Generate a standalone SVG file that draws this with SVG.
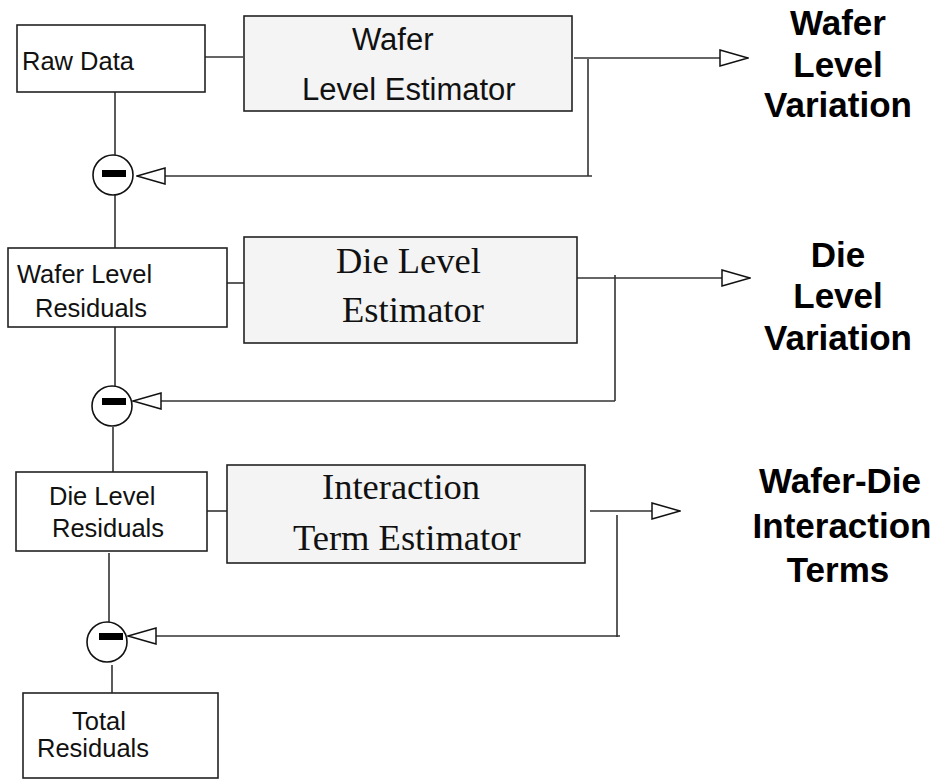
<svg xmlns="http://www.w3.org/2000/svg" width="940" height="779" viewBox="0 0 940 779">
<style>
.box{fill:#ffffff;stroke:#222;stroke-width:1.6}
.est{fill:#f4f4f4;stroke:#222;stroke-width:1.6}
.ln{fill:none;stroke:#333;stroke-width:1.6}
.arr{fill:none;stroke:#333;stroke-width:1.6;marker-end:url(#tri)}
.sum{fill:#ffffff;stroke:#111;stroke-width:1.6}
.bar{fill:#000}
.lbl{font-family:"Liberation Sans",Arial,sans-serif;font-size:25.5px;fill:#111}
.ser{font-family:"Liberation Serif","Times New Roman",serif;font-size:36.5px;fill:#111}
.ss{font-family:"Liberation Sans",Arial,sans-serif;font-size:31px;fill:#111}
.out{font-family:"Liberation Sans",Arial,sans-serif;font-size:35px;font-weight:bold;fill:#000;text-anchor:middle}
</style>
<defs>
<marker id="tri" markerUnits="userSpaceOnUse" viewBox="0 0 30 18" refX="29" refY="9" markerWidth="30" markerHeight="18" orient="auto">
<path d="M1,1 L29,9 L1,17 Z" fill="#fff" stroke="#111" stroke-width="1.5"/>
</marker>
</defs>

<g id="connectors">
<!-- stage 1 -->
<path class="ln" d="M203,57 H243"/>
<path class="arr" d="M574,58 H748"/>
<path class="ln" d="M588,59 V176"/>
<path class="arr" d="M592,176 H137"/>
<path class="ln" d="M115,92 V155"/>
<path class="ln" d="M115,195 V248"/>
<!-- stage 2 -->
<path class="ln" d="M227,283 H244"/>
<path class="arr" d="M577,278 H750"/>
<path class="ln" d="M615,275 V401"/>
<path class="arr" d="M615,401 H133"/>
<path class="ln" d="M115,327 V386"/>
<path class="ln" d="M113,427 V472"/>
<!-- stage 3 -->
<path class="ln" d="M204,511 H230"/>
<path class="arr" d="M590,511 H680"/>
<path class="ln" d="M617,515 V637"/>
<path class="arr" d="M620,636 H128"/>
<path class="ln" d="M109,553 V622"/>
<path class="ln" d="M112,665 V693"/>
</g>

<g id="raw-data">
<rect class="box" x="17" y="25" width="188" height="67"/>
<text class="lbl" x="22" y="70">Raw Data</text>
</g>

<g id="wafer-level-estimator">
<rect class="est" x="244" y="16" width="328" height="95"/>
<text class="ss" x="352" y="50">Wafer</text>
<text class="ss" x="302" y="100">Level Estimator</text>
</g>

<g id="sum1">
<circle class="sum" cx="113" cy="175" r="20"/>
<rect class="bar" x="102" y="170" width="24" height="7"/>
</g>

<g id="wafer-level-residuals">
<rect class="box" x="8" y="248" width="219" height="79"/>
<text class="lbl" x="17" y="283">Wafer Level</text>
<text class="lbl" x="35" y="317">Residuals</text>
</g>

<g id="die-level-estimator">
<rect class="est" x="244" y="237" width="333" height="106"/>
<text class="ser" x="336" y="273">Die Level</text>
<text class="ser" x="342" y="322">Estimator</text>
</g>

<g id="sum2">
<circle class="sum" cx="112" cy="406" r="20"/>
<rect class="bar" x="102" y="398" width="24" height="7"/>
</g>

<g id="die-level-residuals">
<rect class="box" x="16" y="472" width="191" height="79"/>
<text class="lbl" x="49" y="505">Die Level</text>
<text class="lbl" x="52" y="537">Residuals</text>
</g>

<g id="interaction-term-estimator">
<rect class="est" x="227" y="465" width="358" height="98"/>
<text class="ser" x="322" y="499">Interaction</text>
<text class="ser" x="293" y="550">Term Estimator</text>
</g>

<g id="sum3">
<circle class="sum" cx="107" cy="642" r="20"/>
<rect class="bar" x="99" y="633" width="24" height="7"/>
</g>

<g id="total-residuals">
<rect class="box" x="23" y="693" width="195" height="85"/>
<text class="lbl" x="72" y="730">Total</text>
<text class="lbl" x="37" y="757">Residuals</text>
</g>

<g id="wafer-level-variation">
<text class="out" x="838" y="35">Wafer</text>
<text class="out" x="838" y="77">Level</text>
<text class="out" x="838" y="117">Variation</text>
</g>

<g id="die-level-variation">
<text class="out" x="838" y="267">Die</text>
<text class="out" x="838" y="308">Level</text>
<text class="out" x="838" y="350">Variation</text>
</g>

<g id="wafer-die-interaction-terms">
<text class="out" x="840" y="493">Wafer-Die</text>
<text class="out" x="842" y="538">Interaction</text>
<text class="out" x="838" y="582">Terms</text>
</g>
</svg>
